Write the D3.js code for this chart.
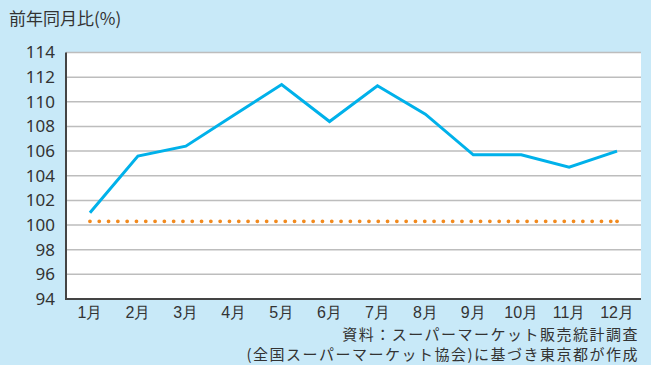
<!DOCTYPE html>
<html><head><meta charset="utf-8">
<script src="https://cdn.jsdelivr.net/npm/d3@7"></script>
<style>
html,body{margin:0;padding:0;background:#c8e9f8;}
svg{display:block;font-family:"Noto Sans CJK JP","Noto Sans",sans-serif;}
</style></head>
<body>
<svg id="chart" width="651" height="365"></svg>
<script>
const months = ["1月","2月","3月","4月","5月","6月","7月","8月","9月","10月","11月","12月"];
const yoyValues = [101.0,105.6,106.4,108.9,111.4,108.4,111.3,109.0,105.7,105.7,104.7,106.0];
const baselineValues = [100.3,100.3,100.3,100.3,100.3,100.3,100.3,100.3,100.3,100.3,100.3,100.3];
const yTicks = [94,96,98,100,102,104,106,108,110,112,114];
const yLabel = "前年同月比(%)";
const sourceLines = ["資料：スーパーマーケット販売統計調査","(全国スーパーマーケット協会)に基づき東京都が作成"];

const svg = d3.select("#chart");
const W = 651, H = 365;
svg.append("rect").attr("width",W).attr("height",H).attr("fill","#c8e9f8");
const m = {left:66, right:641, top:52.5, bottom:299};

const x = d3.scaleBand().domain(months).range([m.left,m.right]);
const y = d3.scaleLinear().domain([94,114]).range([m.bottom,m.top]);

svg.append("rect").attr("x",m.left).attr("y",m.top).attr("width",m.right-m.left).attr("height",m.bottom-m.top).attr("fill","#fff");

// gridlines
svg.append("g").selectAll("line").data(yTicks.filter(d=>d>94)).join("line")
  .attr("x1",m.left).attr("x2",m.right)
  .attr("y1",d=>y(d)).attr("y2",d=>y(d))
  .attr("stroke","#bdbdbd").attr("stroke-width",1.5);

// y axis
const ya = svg.append("g").attr("transform",`translate(${m.left},0)`)
  .call(d3.axisLeft(y).tickValues(yTicks).tickSize(0).tickPadding(11));
ya.select(".domain").remove();
ya.selectAll("text").attr("font-size",17).attr("fill","#333").attr("font-family","'Noto Sans','Open Sans',sans-serif");

// x axis
const xa = svg.append("g").attr("transform",`translate(0,${m.bottom})`)
  .call(d3.axisBottom(x).tickSize(0).tickPadding(8));
xa.select(".domain").remove();
xa.selectAll("text").attr("font-size",16).attr("fill","#333");

// axis lines
svg.append("line").attr("x1",m.left).attr("x2",m.left).attr("y1",m.top).attr("y2",m.bottom+1)
  .attr("stroke","#444").attr("stroke-width",2);
svg.append("line").attr("x1",m.left).attr("x2",m.right).attr("y1",m.bottom).attr("y2",m.bottom)
  .attr("stroke","#444").attr("stroke-width",2);

const cx = d => x(d) + x.bandwidth()/2;

// baseline dotted
svg.append("path").datum(baselineValues.map((v,i)=>[cx(months[i]),y(v)]))
  .attr("d",d3.line()).attr("fill","none").attr("stroke","#f28a1e")
  .attr("stroke-width",3.8).attr("stroke-linecap","round").attr("stroke-dasharray","0 9.3");
svg.append("circle").attr("cx",cx(months[11])).attr("cy",y(baselineValues[11])).attr("r",1.9).attr("fill","#f28a1e");

// main line
svg.append("path").datum(yoyValues.map((v,i)=>[cx(months[i]),y(v)]))
  .attr("d",d3.line()).attr("fill","none").attr("stroke","#00b1ea")
  .attr("stroke-width",3).attr("stroke-linejoin","miter");

// labels
svg.append("text").attr("x",9).attr("y",25).attr("font-size",17).attr("fill","#333").text(yLabel);
sourceLines.forEach((t,i)=>{
  svg.append("text").attr("x",639).attr("y",340+i*20).attr("text-anchor","end")
    .attr("font-size",15).attr("letter-spacing",1.5).attr("fill","#333").text(t);
});
</script>
</body></html>
